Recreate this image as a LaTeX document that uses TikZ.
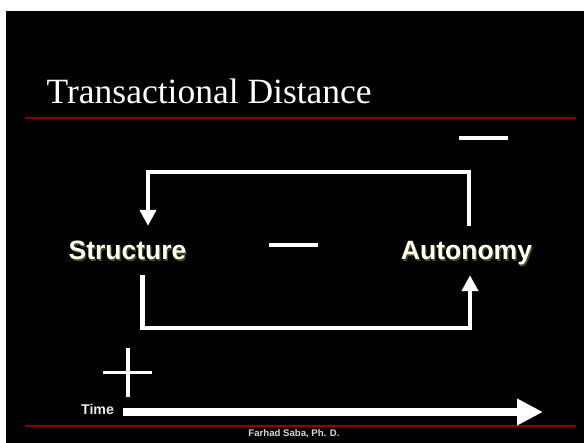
\documentclass[tikz,border=0pt]{standalone}
\usepackage{fontspec}
\setmainfont{Liberation Serif}
\setsansfont{Liberation Sans}
\usepackage{xcolor}
\usetikzlibrary{arrows.meta}
\definecolor{slidered}{HTML}{8B0000}
\definecolor{labelcream}{HTML}{FFFFF2}
\definecolor{labelshade}{HTML}{4A4526}
\newcommand{\shadowed}[1]{\makebox[0pt][l]{\hspace{1.3pt}\raisebox{-1.3pt}{\color{labelshade}#1}}#1}

\begin{document}
\begin{tikzpicture}[x=1pt, y=-1pt,
                lbl/.style = {font=\sffamily\bfseries\fontsize{26.5}{30}\selectfont, text=labelcream, text height=19pt, text depth=0pt, inner xsep=2pt, inner ysep=15pt, anchor=base},
                loopline/.style = {draw=white, line width=4.5pt, -{Triangle[width=16pt,length=16pt]}},
                sign/.style = {draw=white, line width=3.5pt},
                rule/.style = {draw=slidered, line width=1.5pt}]
                % Slide background
                \fill[white] (0,0) rectangle (584,443);
                \fill[black] (6,11) rectangle (584,443);
                \useasboundingbox (0,0) rectangle (584,443);
                % Title and rules
                \node[font=\fontsize{35.5}{40}\selectfont, text=white, anchor=base west, inner sep=0pt] (title) at (46.5,104) {Transactional Distance};
                \draw[rule] (25,118) -- (576,118);
                \draw[rule] (25,426) -- (576,426);
                % The two variables
                \node[lbl] (struct) at (127.5,260) {\shadowed{Structure}};
                \node[lbl] (auto) at (466.5,260) {\shadowed{Autonomy}};
                % Loop corners
                \coordinate (ttop) at (300,172);
                \coordinate (tbot) at (300,328);
                \draw[loopline] ([xshift=2.5pt]auto.north) |- (ttop) -| ([xshift=20.5pt]struct.north);
                \draw[loopline] ([xshift=15pt]struct.south) |- (tbot) -| ([xshift=3.5pt]auto.south);
                % Signs
                \draw[sign] (459,138) -- (508,138);
                \draw[sign] (269,245) -- (318,245);
                \draw[sign] (103,372.7) -- (152,372.7);
                \draw[sign] (128,348) -- (128,397);
                % Time axis
                \node[font=\sffamily\bfseries\fontsize{14.2}{16}\selectfont, text=white!92!black, anchor=base east, inner xsep=0pt, outer xsep=8.7pt] (timel) at (122.7,415) {Time};
                \coordinate (tend) at (543,412);
                \draw[white, line width=8.5pt, -{Triangle[width=25pt,length=26pt]}] (timel.east |- tend) -- (tend);
                % Footer
                \node[font=\sffamily\bfseries\fontsize{9.6}{11}\selectfont, text=white!85!black, anchor=base] (credit) at (294,437) {Farhad Saba, Ph. D.};
            \end{tikzpicture}
\end{document}
